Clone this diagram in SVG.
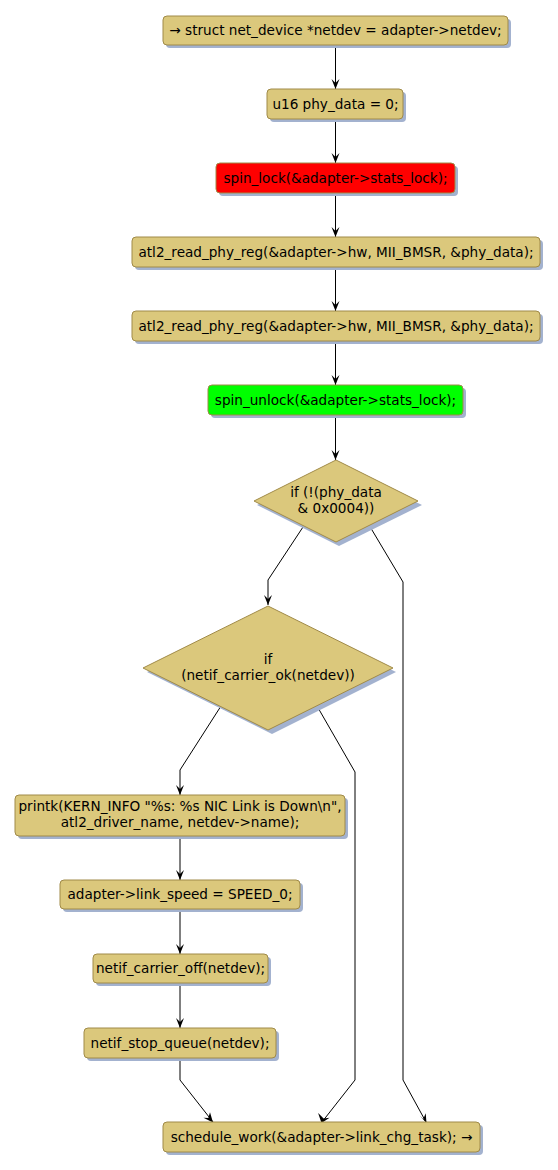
<svg xmlns="http://www.w3.org/2000/svg" width="558" height="1170" viewBox="0 0 558 1170">
<defs>
<style>
.n{fill:#DBC87C;stroke:#A08A48;stroke-width:1}
.s{fill:#A3B2CF;stroke:none}
.t{font-family:"DejaVu Sans",sans-serif;font-size:13.6px;fill:#000;text-anchor:middle}
.c{fill:none;stroke:#000;stroke-width:1}
.a{fill:#000;stroke:none}
</style>
</defs>
<rect width="558" height="1170" fill="#fff"/>
<g id="connectors">
<path class="c" d="M335.5,45 V89"/>
<polygon class="a" points="331.5,79 335.5,89 339.5,79 335.5,83"/>
<path class="c" d="M335.5,119 V163"/>
<polygon class="a" points="331.5,153 335.5,163 339.5,153 335.5,157"/>
<path class="c" d="M335.5,193 V237"/>
<polygon class="a" points="331.5,227 335.5,237 339.5,227 335.5,231"/>
<path class="c" d="M335.5,267 V311"/>
<polygon class="a" points="331.5,301 335.5,311 339.5,301 335.5,305"/>
<path class="c" d="M335.5,341 V385"/>
<polygon class="a" points="331.5,375 335.5,385 339.5,375 335.5,379"/>
<path class="c" d="M335.5,415 V460"/>
<polygon class="a" points="331.5,450 335.5,460 339.5,450 335.5,454"/>
<path class="c" d="M303,527 L268,580 V605"/>
<polygon class="a" points="264,595 268,605 272,595 268,599"/>
<path class="c" d="M369,525 L403,582 V1080 L426,1122"/>
<polygon class="a" points="419.6,1115.6 426.5,1123 425.7,1113.3 423.3,1118.9"/>
<path class="c" d="M221,706 L180,770 V795"/>
<polygon class="a" points="176,785 180,795 184,785 180,789"/>
<path class="c" d="M317,706 L355,772 V1080 L322,1122"/>
<polygon class="a" points="318.1,1113 321.5,1123 329.6,1117.8 323.6,1118.6"/>
<path class="c" d="M180,837 V880"/>
<polygon class="a" points="176,870 180,880 184,870 180,874"/>
<path class="c" d="M180,909 V954"/>
<polygon class="a" points="176,944 180,954 184,944 180,948"/>
<path class="c" d="M180,983 V1028"/>
<polygon class="a" points="176,1018 180,1028 184,1018 180,1022"/>
<path class="c" d="M180,1058 V1080 L213,1122"/>
<polygon class="a" points="203.5,1117.7 213,1122.5 210,1112.2 208.3,1118"/>
</g>
<g id="n1"><rect class="s" x="166" y="19" width="345" height="29" rx="4"/><rect class="n" x="163" y="16" width="345" height="29" rx="4"/><text class="t" x="335.5" y="35">→ struct net_device *netdev = adapter-&gt;netdev;</text></g>
<g id="n2"><rect class="s" x="270" y="92" width="136" height="30" rx="4"/><rect class="n" x="267" y="89" width="136" height="30" rx="4"/><text class="t" x="335.5" y="109">u16 phy_data = 0;</text></g>
<g id="n3"><rect class="s" x="219" y="166" width="239" height="30" rx="4"/><rect class="n" style="fill:#FF0000" x="216" y="163" width="239" height="30" rx="4"/><text class="t" x="335.5" y="183">spin_lock(&amp;adapter-&gt;stats_lock);</text></g>
<g id="n4"><rect class="s" x="135" y="240" width="408" height="30" rx="4"/><rect class="n" x="132" y="237" width="408" height="30" rx="4"/><text class="t" x="336" y="257">atl2_read_phy_reg(&amp;adapter-&gt;hw, MII_BMSR, &amp;phy_data);</text></g>
<g id="n5"><rect class="s" x="135" y="314" width="408" height="30" rx="4"/><rect class="n" x="132" y="311" width="408" height="30" rx="4"/><text class="t" x="336" y="331">atl2_read_phy_reg(&amp;adapter-&gt;hw, MII_BMSR, &amp;phy_data);</text></g>
<g id="n6"><rect class="s" x="211" y="388" width="255" height="30" rx="4"/><rect class="n" style="fill:#00FF00" x="208" y="385" width="255" height="30" rx="4"/><text class="t" x="335.5" y="405">spin_unlock(&amp;adapter-&gt;stats_lock);</text></g>
<g id="d1"><polygon class="s" points="339,464 422,505 339,546 257,505"/><polygon class="n" points="336,460 418,501 336,542 254,501"/><text class="t" x="336" y="497">if (!(phy_data</text><text class="t" x="336" y="513">&amp; 0x0004))</text></g>
<g id="d2"><polygon class="s" points="272,610 396,672 272,734 147,672"/><polygon class="n" points="268,606 393,668 268,730 143,668"/><text class="t" x="268" y="664">if</text><text class="t" x="268" y="680">(netif_carrier_ok(netdev))</text></g>
<g id="n7"><rect class="s" x="18" y="798" width="330" height="41" rx="4"/><rect class="n" x="15" y="795" width="330" height="41" rx="4"/><text class="t" x="180" y="811">printk(KERN_INFO "%s: %s NIC Link is Down\n",</text><text class="t" x="180" y="827">atl2_driver_name, netdev-&gt;name);</text></g>
<g id="n8"><rect class="s" x="63" y="883" width="240" height="29" rx="4"/><rect class="n" x="60" y="880" width="240" height="29" rx="4"/><text class="t" x="180" y="899">adapter-&gt;link_speed = SPEED_0;</text></g>
<g id="n9"><rect class="s" x="96" y="957" width="175" height="29" rx="4"/><rect class="n" x="93" y="954" width="175" height="29" rx="4"/><text class="t" x="180.5" y="973">netif_carrier_off(netdev);</text></g>
<g id="n10"><rect class="s" x="87" y="1031" width="192" height="30" rx="4"/><rect class="n" x="84" y="1028" width="192" height="30" rx="4"/><text class="t" x="180" y="1048">netif_stop_queue(netdev);</text></g>
<g id="n11"><rect class="s" x="166" y="1125" width="317" height="30" rx="4"/><rect class="n" x="163" y="1122" width="317" height="30" rx="4"/><text class="t" x="321.5" y="1142">schedule_work(&amp;adapter-&gt;link_chg_task); →</text></g>
</svg>
